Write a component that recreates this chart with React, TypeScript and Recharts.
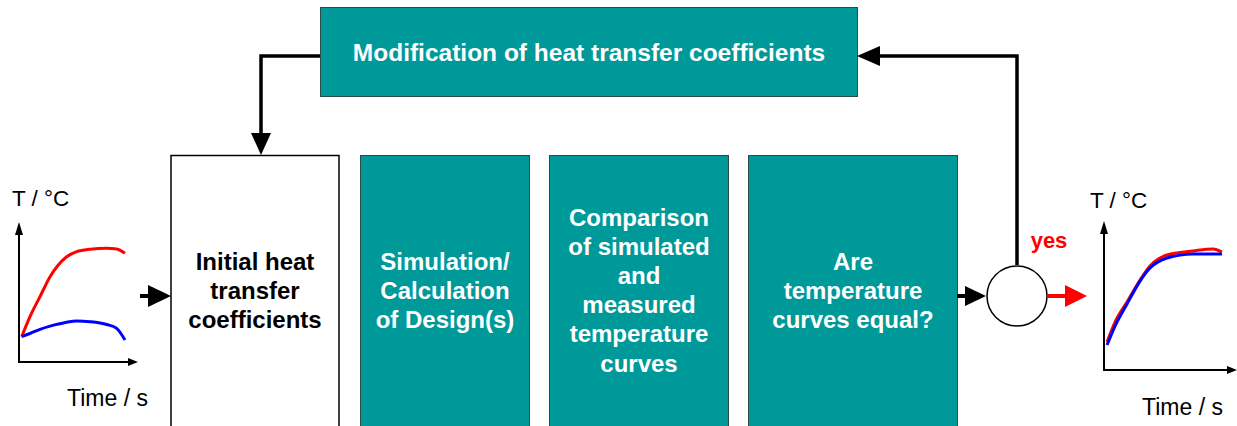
import React from "react"
import { LineChart, Line, XAxis, YAxis } from "recharts"

// left sketch: curves before the fit
const leftTime = [2.3, 9.3, 17.8, 26.3, 33.3, 40.4, 48.9, 60.2, 74.3, 82.8, 89.8]
const leftMeasured = [18.2, 32.6, 47.0, 61.4, 69.8, 75.7, 79.4, 81.1, 81.8, 81.3, 78.2]
const leftSimulated = [18.2, 20.5, 23.5, 25.8, 27.3, 28.6, 29.5, 29.0, 27.0, 24.2, 15.8]

// right sketch: curves after the fit
const rightTime = [2.3, 8.3, 17.3, 27.1, 34.6, 47.4, 66.9, 82, 88.7]
const rightMeasured = [18.9, 32.4, 45.9, 60.8, 70.3, 77.7, 80.4, 81.8, 79.7]
const rightSimulated = [16.9, 29.7, 44.6, 60.1, 68.9, 75.7, 78.4, 78.4, 78.4]

const topLabel = "Modification of heat transfer coefficients"
const initialLines = ["Initial heat", "transfer", "coefficients"]
const simulationLines = ["Simulation/", "Calculation", "of Design(s)"]
const comparisonLines = ["Comparison", "of simulated", "and", "measured", "temperature", "curves"]
const equalLines = ["Are", "temperature", "curves equal?"]

const yAxisLabel = "T / °C"
const xAxisLabel = "Time / s"
const yesLabel = "yes"

const leftData = leftTime.map((t, i) => ({ t, measured: leftMeasured[i], simulated: leftSimulated[i] }))
const rightData = rightTime.map((t, i) => ({ t, measured: rightMeasured[i], simulated: rightSimulated[i] }))

const TEAL = "#009999"
const FONT = "'Liberation Sans', Arial, sans-serif"

function BoxText({ lines, cx, y0, color }: { lines: string[]; cx: number; y0: number; color: string }) {
  return (
    <text fontFamily={FONT} fontWeight="bold" fontSize={24} fill={color} textAnchor="middle">
      {lines.map((l, i) => (
        <tspan key={i} x={cx} y={y0 + i * 29.2}>
          {l}
        </tspan>
      ))}
    </text>
  )
}

function Sketch({ data, left, top, width, height }: { data: any[]; left: number; top: number; width: number; height: number }) {
  return (
    <div style={{ position: "absolute", left, top }}>
      <LineChart width={width} height={height} data={data} margin={{ top: 0, right: 0, bottom: 0, left: 0 }}>
        <XAxis type="number" dataKey="t" domain={[0, 100]} hide />
        <YAxis type="number" domain={[0, 100]} hide />
        <Line type="monotone" dataKey="measured" stroke="#ff0000" strokeWidth={3} dot={false} isAnimationActive={false} />
        <Line type="monotone" dataKey="simulated" stroke="#0000ff" strokeWidth={3} dot={false} isAnimationActive={false} />
      </LineChart>
    </div>
  )
}

export default function App() {
  return (
    <div style={{ position: "absolute", left: 0, top: 0, width: 1237, height: 426, background: "#fff", overflow: "hidden" }}>
      <svg width={1237} height={426} style={{ position: "absolute", left: 0, top: 0 }}>
        {/* boxes */}
        <rect x={320.5} y={7.5} width={537} height={89} fill={TEAL} stroke="#2b4a4a" strokeWidth={1} />
        <rect x={171} y={155.5} width={168} height={275} fill="#fff" stroke="#000" strokeWidth={1.5} />
        <rect x={360.5} y={155.5} width={169} height={275} fill={TEAL} stroke="#2b4a4a" strokeWidth={1} />
        <rect x={549.5} y={155.5} width={179} height={275} fill={TEAL} stroke="#2b4a4a" strokeWidth={1} />
        <rect x={748.5} y={155.5} width={209} height={275} fill={TEAL} stroke="#2b4a4a" strokeWidth={1} />

        <text x={589} y={61} fontFamily={FONT} fontWeight="bold" fontSize={24.5} fill="#fff" textAnchor="middle">
          {topLabel}
        </text>
        <BoxText lines={initialLines} cx={255} y0={270} color="#000" />
        <BoxText lines={simulationLines} cx={445} y0={270} color="#fff" />
        <BoxText lines={comparisonLines} cx={639} y0={225.5} color="#fff" />
        <BoxText lines={equalLines} cx={853} y0={270} color="#fff" />

        {/* feedback loop */}
        <polyline points="320,56 261,56 261,134" fill="none" stroke="#000" strokeWidth={3.5} />
        <polygon points="251,133 271,133 261,155" fill="#000" />
        <polyline points="1017,265 1017,56 879,56" fill="none" stroke="#000" strokeWidth={3.5} />
        <polygon points="880,46 880,66 857,56" fill="#000" />

        {/* flow arrows */}
        <line x1={140} y1={296} x2={150} y2={296} stroke="#000" strokeWidth={4} />
        <polygon points="148,285 148,307 171,296" fill="#000" />
        <line x1={957} y1={296} x2={966} y2={296} stroke="#000" strokeWidth={4} />
        <polygon points="965,286 965,306 986,296" fill="#000" />
        <circle cx={1017} cy={296} r={30} fill="#fff" stroke="#000" strokeWidth={1.5} />
        <line x1={1047} y1={296} x2={1066} y2={296} stroke="#ff0000" strokeWidth={4} />
        <polygon points="1065,285 1065,307 1087,296" fill="#ff0000" />
        <text x={1049} y={248} fontFamily={FONT} fontWeight="bold" fontSize={22} fill="#ff0000" textAnchor="middle">
          {yesLabel}
        </text>

        {/* sketch axes */}
        <polyline points="19,232 19,362 130,362" fill="none" stroke="#000" strokeWidth={2} />
        <polygon points="15,235 23,235 19,222" fill="#000" />
        <polygon points="128,358 128,366 138,362" fill="#000" />
        <polyline points="1104,231 1104,370 1229,370" fill="none" stroke="#000" strokeWidth={2} />
        <polygon points="1100,234 1108,234 1104,221" fill="#000" />
        <polygon points="1227,366 1227,374 1237,370" fill="#000" />

        <text x={12} y={206} fontFamily={FONT} fontSize={22.5} fill="#000">{yAxisLabel}</text>
        <text x={67} y={406} fontFamily={FONT} fontSize={23} fill="#000">{xAxisLabel}</text>
        <text x={1090} y={208} fontFamily={FONT} fontSize={22.5} fill="#000">{yAxisLabel}</text>
        <text x={1142} y={415} fontFamily={FONT} fontSize={23} fill="#000">{xAxisLabel}</text>
      </svg>
      <Sketch data={leftData} left={19} top={223} width={118} height={139} />
      <Sketch data={rightData} left={1104} top={222} width={133} height={148} />
    </div>
  )
}
